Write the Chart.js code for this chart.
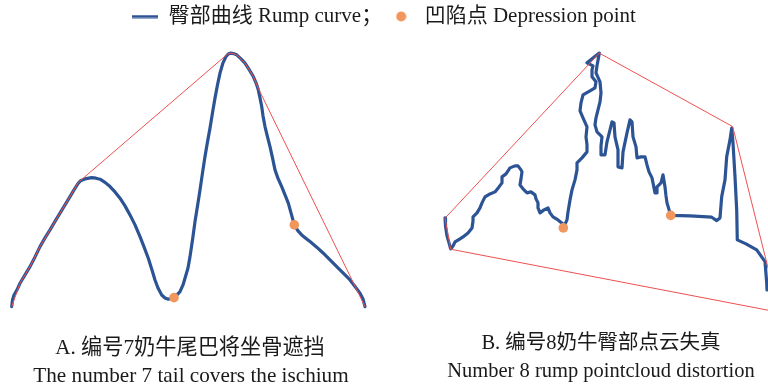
<!DOCTYPE html>
<html>
<head>
<meta charset="utf-8">
<script src="https://cdn.jsdelivr.net/npm/chart.js@4.4.1/dist/chart.umd.min.js"></script>
<style>
  html, body { margin: 0; padding: 0; background: #fff; }
  #wrap { position: relative; width: 768px; height: 385px; overflow: hidden; }
  #chart { position: absolute; left: 0; top: 0; }
  .cap {
    position: absolute; width: 384px; text-align: center; white-space: nowrap;
    font-family: "Liberation Serif", "Noto Sans CJK SC", serif;
    color: #1a1a1a; line-height: 1;
  }
  .capA { font-size: 21.2px; }
  .capB { font-size: 20.5px; }
</style>
</head>
<body>
<div id="wrap">
  <canvas id="chart" width="768" height="385"></canvas>
  <div class="cap capA" style="left:-2px; top:337px;">A. 编号7奶牛尾巴将坐骨遮挡</div>
  <div class="cap capA" style="left:-1px; top:365px;">The number 7 tail covers the ischium</div>
  <div class="cap capB" style="left:409px; top:332px;">B. 编号8奶牛臀部点云失真</div>
  <div class="cap capB" style="left:409px; top:360px;">Number 8 rump pointcloud distortion</div>
</div>
<script>
// Legend texts
const curveLabel = '臀部曲线 Rump curve；';
const pointLabel = '凹陷点 Depression point';

// Panel A: rump profile of cow no. 7 (x, y in drawing units, y grows downward)
const rumpA = [
  [11.7,306.7],[12.5,300],[14,295],[17,290],[20,283.3],[25,275],[30,266.7],[35,257],[40,246.7],
  [45,238],[50,230],[55,221.5],[60,213.3],[65,205],[70,196.7],[74,190],[78.3,183.3],[81,180.5],
  [85,179],[91.7,177.7],[96,178.3],[100,179.3],[105,182.5],[110,186.7],[115,192],[120,198.3],
  [125,206],[130,215],[135,225],[140,236.7],[144,247],[148.3,258.3],[152,270],[155,280],[158,288],
  [161.7,295],[165,298],[168.3,299.3],[174,297.7],[177,295],[180,291.7],[183,285],[185,278.3],
  [188,268],[190,256.7],[192.5,240],[195,221.7],[197.5,206],[200,190],[202.5,173],[205,156.7],
  [207.5,142],[210,128.3],[212.5,113],[215,98.3],[217.5,85],[220,73.3],[223,63],[226,56.7],
  [228.5,54],[231,53.3],[234,54],[236.7,55],[241,59],[245,63.3],[249,69.5],[253.3,76.7],[256,83],
  [258.3,90],[260,98],[261.7,106.7],[263,116],[265,126.7],[267.5,137],[270,146.7],[272.5,158],
  [275,170],[278,178.5],[281.7,186.7],[285,195],[288.3,203.3],[291,213],[294.3,225],[298,231],
  [301.7,235],[306,238.5],[310,241.7],[317,247.5],[323.3,253.3],[330,260],[336.7,266.7],[343,273],
  [350,280],[355,286.5],[360,293.3],[363,299],[365,306.7]
];
// Convex hull of panel A
const hullA = [
  [11.7,306.7],[20,283.3],[30,266.7],[40,246.7],[50,230],[60,213.3],[70,196.7],[78.3,182.5],
  [227.5,54.3],[231,53.3],[236.7,55],[245,63.3],[253.3,76.7],[258.3,88.5],[365,306.7]
];
// Depression points of panel A
const dentsA = [[174,297.7],[294.3,225]];

// Panel B: distorted rump point cloud of cow no. 8
const rumpB = [
  [445,218],[445.5,226],[447,236],[449,243],[450.7,249],[453,246],[455,242],[460,239],[463,237],
  [468,233],[472,228],[473,221],[473,217],[477,213],[480,208],[482,203],[485,197],[490,194],
  [495,192],[499,187],[502,183],[502,177],[506,174],[510,168],[515,166],[518,166],[521,170],
  [522,172],[521,179],[520,185],[524,190],[527,193],[531,192],[535,195],[536,199],[538,203],
  [538,208],[540,213],[544,210],[548,208],[550,213],[553,217],[558,220],[563,224],[563.3,228],
  [567,220],[568,212],[570,200],[572,190],[575,180],[577,170],[577,163],[582,158],[587,152],
  [587,145],[586,137],[587,127],[583,118],[580,111],[581,103],[583,95],[590,91],[595,88],[596,82],
  [592,77],[592,70],[593,66],[587,63],[599.3,53.3],[597,66],[596,73],[600,82],[601,93],[600,102],
  [598,110],[596,118],[595,125],[597,132],[602,137],[601,146],[601,155],[605,155],[607,142],
  [610,130],[612,122],[614,123],[615,137],[618,150],[618,160],[618,167],[622,168],[623,152],
  [627,133],[630,120],[632,122],[633,137],[636,147],[637,158],[641,157],[645,157],[647,165],
  [649,172],[652,178],[653,183],[655,193],[657,193],[657,187],[661,183],[663,175],[665,187],
  [666,196],[667,203],[670,213],[670.7,215.5],[690,216],[711.7,217.3],[716.7,220.7],[720,218],
  [721.7,196.7],[725,180],[726.7,156.7],[730,140],[731.7,128.3],[733,143],[735,177],[736.7,210],
  [737.3,240],[746,244],[756.7,250],[765,261.7],[766.7,283],[767,290]
];
// Convex hull of panel B
const hullB = [
  [450.7,249.3],[445,218.3],[599.3,53.3],[732.7,126.7],[772,284],[772,311],[450.7,249.3]
];
// Depression points of panel B
const dentsB = [[563.3,228],[670.7,215.5]];

const BLUE = '#2C5495';
const RED = '#EE5050';
const ORANGE = '#F1975D';

const xy = arr => arr.map(p => ({x: p[0], y: p[1]}));

// Small icons used as legend markers
function lineIcon() {
  const c = document.createElement('canvas');
  c.width = 26; c.height = 4;
  const g = c.getContext('2d');
  g.fillStyle = BLUE; g.fillRect(0, 0.5, 26, 3);
  return c;
}
function dotIcon() {
  const c = document.createElement('canvas');
  c.width = 11; c.height = 11;
  const g = c.getContext('2d');
  g.fillStyle = ORANGE; g.beginPath(); g.arc(5.5, 5.5, 5, 0, Math.PI * 2); g.fill();
  return c;
}
const legendIcons = [lineIcon(), dotIcon()];

const dotStyle = {
  showLine: false, pointRadius: 4.8, pointHoverRadius: 4.8,
  pointBackgroundColor: ORANGE, pointBorderWidth: 0, backgroundColor: ORANGE, borderColor: ORANGE
};
const curveStyle = {
  showLine: true, pointRadius: 0, borderColor: BLUE, borderWidth: 3.2, tension: 0,
  borderJoinStyle: 'round', borderCapStyle: 'round', backgroundColor: BLUE
};
const hullStyle = {
  showLine: true, pointRadius: 0, borderColor: RED, borderWidth: 1, tension: 0, backgroundColor: RED
};

new Chart(document.getElementById('chart'), {
  type: 'scatter',
  data: {
    datasets: [
      Object.assign({label: pointLabel, data: xy(dentsA)}, dotStyle),
      Object.assign({label: pointLabel, data: xy(dentsB)}, dotStyle),
      Object.assign({label: 'hullA', data: xy(hullA)}, hullStyle),
      Object.assign({label: 'hullB', data: xy(hullB)}, hullStyle),
      Object.assign({label: curveLabel, data: xy(rumpA)}, curveStyle),
      Object.assign({label: curveLabel, data: xy(rumpB)}, curveStyle)
    ]
  },
  options: {
    responsive: false,
    animation: false,
    layout: { padding: 0, autoPadding: false },
    scales: {
      x: { type: 'linear', display: false, min: 0, max: 768 },
      y: { type: 'linear', display: false, reverse: true, min: 37.2, max: 385 }
    },
    plugins: {
      tooltip: { enabled: false },
      legend: {
        display: true,
        position: 'top',
        align: 'center',
        labels: {
          usePointStyle: true,
          pointStyleWidth: 26,
          padding: 6,
          color: '#1a1a1a',
          font: { family: '"Liberation Serif", "Noto Sans CJK SC", serif', size: 21 },
          generateLabels: () => [
            { text: curveLabel, pointStyle: legendIcons[0], fillStyle: BLUE, strokeStyle: BLUE,
              lineWidth: 0, hidden: false, datasetIndex: 4, fontColor: '#1a1a1a' },
            { text: pointLabel, pointStyle: legendIcons[1], fillStyle: ORANGE, strokeStyle: ORANGE,
              lineWidth: 0, hidden: false, datasetIndex: 0, fontColor: '#1a1a1a' }
          ]
        }
      }
    }
  }
});
</script>
</body>
</html>
